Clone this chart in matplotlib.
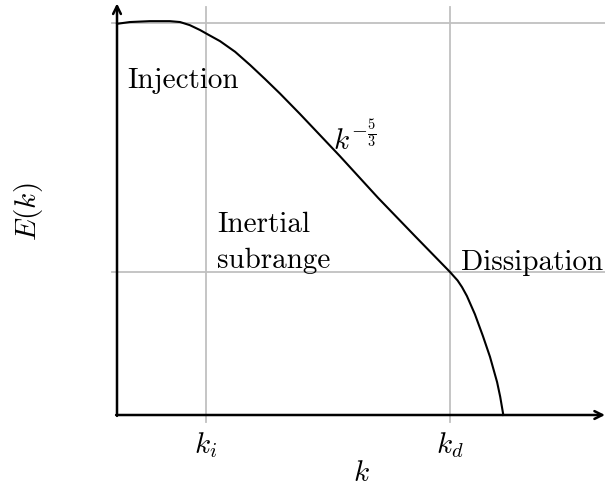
import numpy as np
import matplotlib.pyplot as plt

plt.rcParams['mathtext.fontset'] = 'cm'
plt.rcParams['font.family'] = ['cmr10', 'DejaVu Serif']
plt.rcParams['axes.formatter.use_mathtext'] = True

k_vals = [0, 0.29, 0.74, 1.19, 1.42, 1.64, 1.87, 2.03, 2.32, 2.66, 3.0,
          3.33, 3.67, 4.12, 5.02, 5.88, 6.71, 7.5, 7.58, 7.67, 7.77, 7.88,
          8.06, 8.24, 8.4, 8.56, 8.63, 8.7]
E_vals = [8.81, 8.85, 8.87, 8.87, 8.85, 8.78, 8.67, 8.58, 8.42, 8.18, 7.88,
          7.57, 7.24, 6.78, 5.83, 4.89, 4.03, 3.22, 3.13, 3.03, 2.88, 2.68,
          2.27, 1.78, 1.31, 0.74, 0.41, 0]

k_i = 2.0
k_d = 7.5
E_top = 8.83
E_d = 3.22
x_end = 10.99
y_end = 9.19

fig = plt.figure(figsize=(6.05, 4.89), dpi=100)
ax = fig.add_axes([0, 0, 1, 1])
ax.set_xlim(-2.635, 10.99)
ax.set_ylim(-1.644, 9.369)
ax.axis('off')

grey = '#c0c0c0'
# helper lines
for xv in [k_i, k_d]:
    ax.plot([xv, xv], [-0.16, y_end], color=grey, lw=1.3, zorder=1)
for yv in [E_top, E_d]:
    ax.plot([-0.11, x_end], [yv, yv], color=grey, lw=1.3, zorder=1)

# axes with arrow heads
arrow = dict(arrowstyle='->', lw=1.8, color='black', mutation_scale=14,
             shrinkA=0, shrinkB=0)
ax.annotate('', xy=(x_end, 0), xytext=(-0.02, 0), arrowprops=arrow, zorder=3)
ax.annotate('', xy=(0, y_end + 0.08), xytext=(0, -0.02), arrowprops=arrow, zorder=3)

ax.plot(k_vals, E_vals, color='black', lw=1.5, zorder=4,
        solid_joinstyle='round')

fs = 21
ax.text(0.24, 7.39, 'Injection', fontsize=fs, va='baseline', ha='left')
ax.text(2.26, 4.14, 'Inertial', fontsize=fs, va='baseline', ha='left')
ax.text(2.26, 3.34, 'subrange', fontsize=fs, va='baseline', ha='left')
ax.text(7.75, 3.29, 'Dissipation', fontsize=fs, va='baseline', ha='left')
ax.text(4.86, 6.01, r'$k^{-\frac{5}{3}}$', fontsize=fs, va='baseline', ha='left')

ax.text(k_i, -0.83, r'$k_i$', fontsize=fs, va='baseline', ha='center')
ax.text(k_d, -0.83, r'$k_d$', fontsize=fs, va='baseline', ha='center')
ax.text(x_end / 2, -1.47, r'$k$', fontsize=fs, va='baseline', ha='center')
ax.text(-2.0, y_end / 2, r'$E(k)$', fontsize=fs, va='center', ha='center',
        rotation=90)

fig.savefig('out.png', dpi=100)
